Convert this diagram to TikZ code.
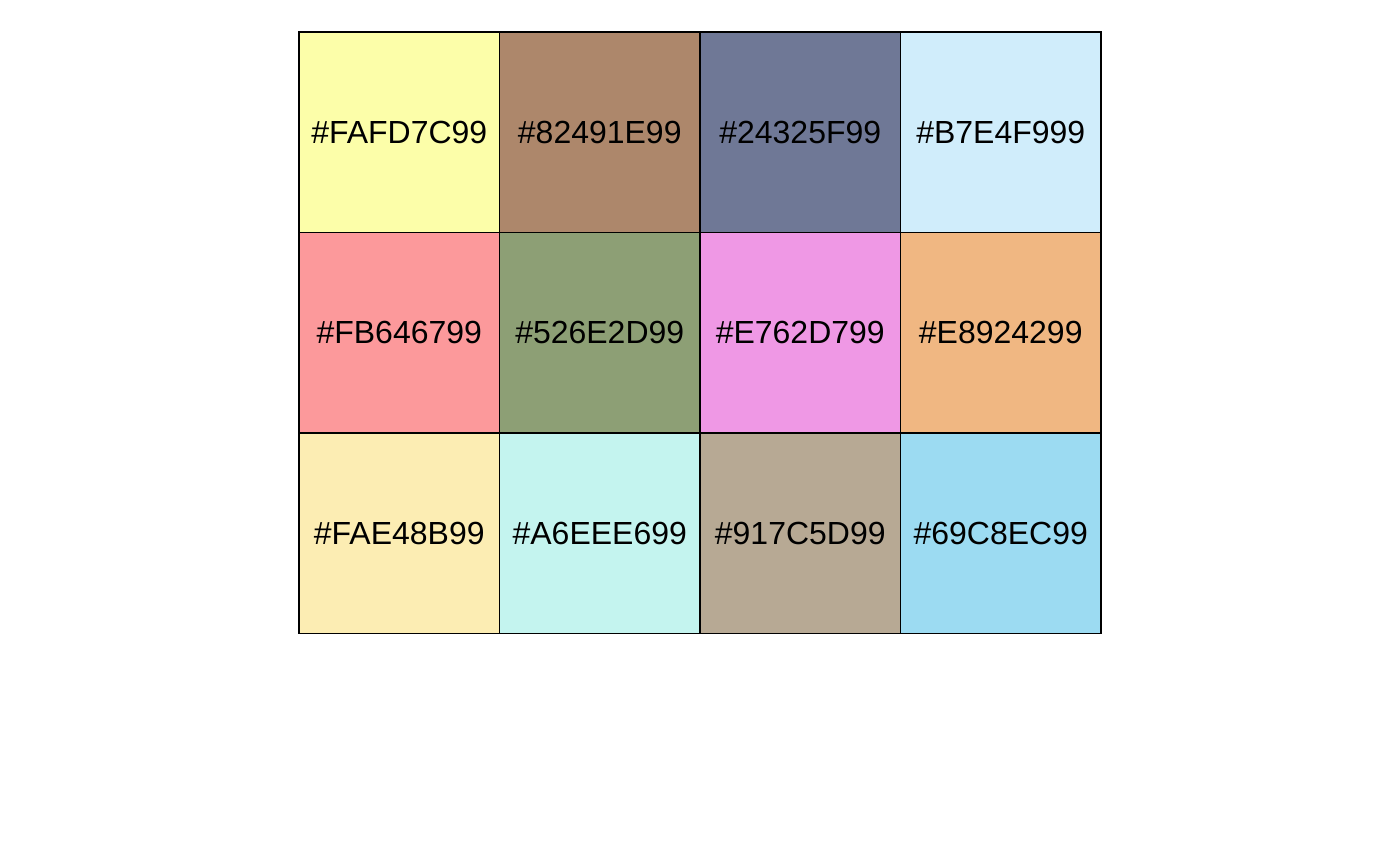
\documentclass[tikz,border=0pt]{standalone}
\usepackage{fontspec}
\setmainfont{Liberation Sans}
\definecolor{cFAFD7C}{HTML}{FAFD7C}
\definecolor{c82491E}{HTML}{82491E}
\definecolor{c24325F}{HTML}{24325F}
\definecolor{cB7E4F9}{HTML}{B7E4F9}
\definecolor{cFB6467}{HTML}{FB6467}
\definecolor{c526E2D}{HTML}{526E2D}
\definecolor{cE762D7}{HTML}{E762D7}
\definecolor{cE89242}{HTML}{E89242}
\definecolor{cFAE48B}{HTML}{FAE48B}
\definecolor{cA6EEE6}{HTML}{A6EEE6}
\definecolor{c917C5D}{HTML}{917C5D}
\definecolor{c69C8EC}{HTML}{69C8EC}
\tikzset{swatch/.style={fill=#1, fill opacity=0.66, text opacity=1, outer sep=0pt,
  minimum width=2.005cm, minimum height=2.005cm, inner sep=0pt, font=\fontsize{9.1}{10}\selectfont}}
\begin{document}
\begin{tikzpicture}
    \useasboundingbox (0,0) rectangle (14,8.66);
    \node (a1) [swatch=cFAFD7C] at (3.9925,7.3375) {\#FAFD7C99};
    \node (a2) [swatch=c82491E] at (5.9975,7.3375) {\#82491E99};
    \node (a3) [swatch=c24325F] at (8.0025,7.3375) {\#24325F99};
    \node (a4) [swatch=cB7E4F9] at (10.0075,7.3375) {\#B7E4F999};
    \node (b1) [swatch=cFB6467] at (3.9925,5.3325) {\#FB646799};
    \node (b2) [swatch=c526E2D] at (5.9975,5.3325) {\#526E2D99};
    \node (b3) [swatch=cE762D7] at (8.0025,5.3325) {\#E762D799};
    \node (b4) [swatch=cE89242] at (10.0075,5.3325) {\#E8924299};
    \node (c1) [swatch=cFAE48B] at (3.9925,3.3275) {\#FAE48B99};
    \node (c2) [swatch=cA6EEE6] at (5.9975,3.3275) {\#A6EEE699};
    \node (c3) [swatch=c917C5D] at (8.0025,3.3275) {\#917C5D99};
    \node (c4) [swatch=c69C8EC] at (10.0075,3.3275) {\#69C8EC99};
    % borders on top of the fills
    \foreach \n in {a1,a2,a3,a4,b1,b2,b3,b4,c1,c2,c3,c4}
      \draw[line width=0.4pt] (\n.south west) rectangle (\n.north east);
  \end{tikzpicture}
\end{document}
